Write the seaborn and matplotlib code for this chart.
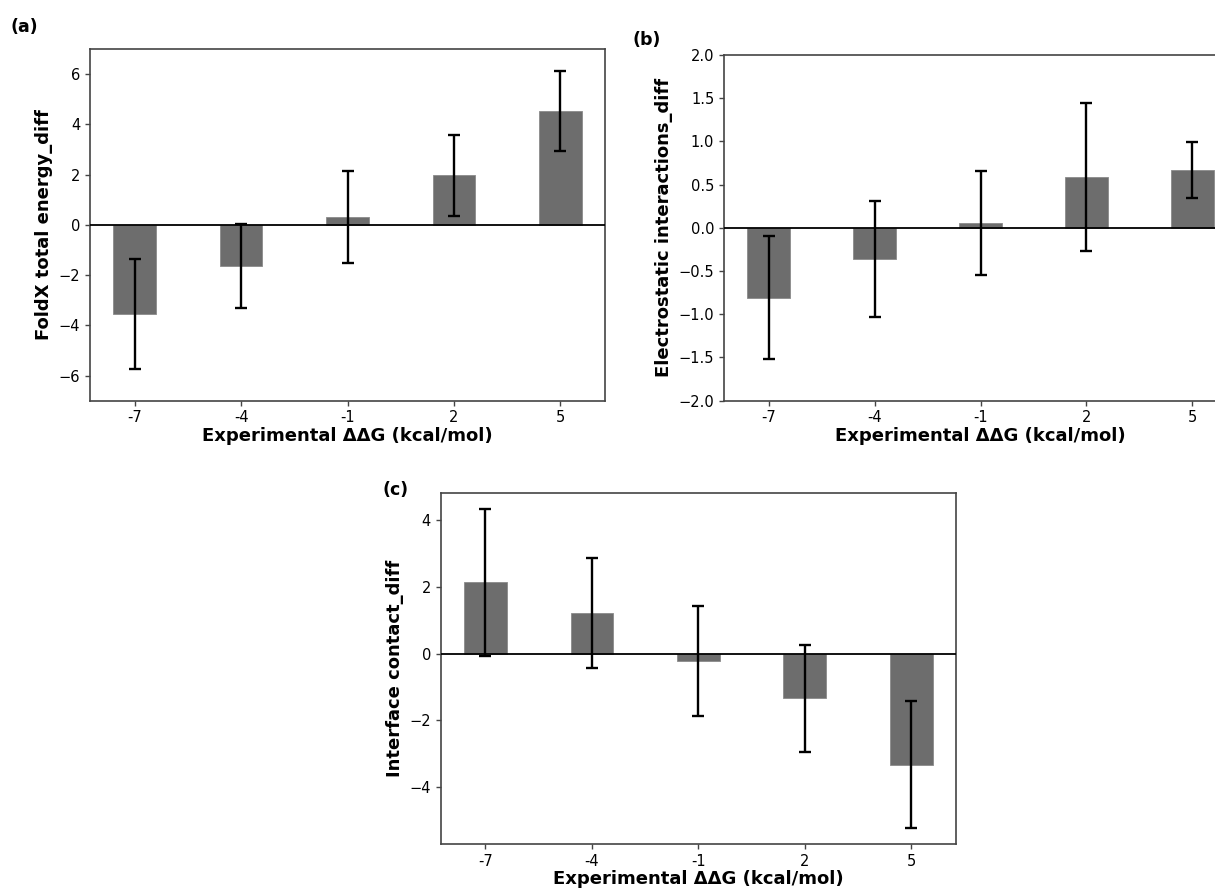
import numpy as np
import pandas as pd
import matplotlib
matplotlib.use("Agg")
import matplotlib.pyplot as plt
import seaborn as sns

# ---- data ----
categories = ["-7", "-4", "-1", "2", "5"]

foldx_mean = [-3.55, -1.65, 0.32, 1.98, 4.54]
foldx_err = [2.17, 1.68, 1.84, 1.61, 1.59]

elec_mean = [-0.81, -0.36, 0.055, 0.59, 0.67]
elec_err = [0.71, 0.67, 0.60, 0.855, 0.32]

contact_mean = [2.14, 1.23, -0.22, -1.35, -3.34]
contact_err = [2.21, 1.65, 1.65, 1.60, 1.90]

xlabel = "Experimental \u0394\u0394G (kcal/mol)"
ylabels = ["FoldX total energy_diff", "Electrostatic interactions_diff", "Interface contact_diff"]
panel_tags = ["(a)", "(b)", "(c)"]

sns.set_style("ticks")
plt.rcParams["font.family"] = ["DejaVu Sans"]
plt.rcParams["text.color"] = "black"
plt.rcParams["axes.labelcolor"] = "black"
plt.rcParams["xtick.labelcolor"] = "black"
plt.rcParams["ytick.labelcolor"] = "black"

fig = plt.figure(figsize=(12.15, 8.89), dpi=100)

positions = [
    [0.0741, 0.5493, 0.4239, 0.3956],
    [0.5959, 0.5493, 0.4222, 0.3889],
    [0.3627, 0.0506, 0.4241, 0.3952],
]
means = [foldx_mean, elec_mean, contact_mean]
errs = [foldx_err, elec_err, contact_err]
ylims = [(-7, 7), (-2, 2), None]
yticks = [[-6, -4, -2, 0, 2, 4, 6],
          [-2.0, -1.5, -1.0, -0.5, 0.0, 0.5, 1.0, 1.5, 2.0],
          [-4, -2, 0, 2, 4]]
tag_pos = [(10 / 1215, 1 - 27 / 889), (632 / 1215, 1 - 40 / 889), (383 / 1215, 1 - 490 / 889)]

bar_color = "#6d6d6d"
spine_color = "#444444"

for i in range(3):
    ax = fig.add_axes(positions[i])
    df = pd.DataFrame({"x": categories, "y": means[i]})
    sns.barplot(data=df, x="x", y="y", order=categories, color=bar_color,
                saturation=1, width=0.4, errorbar=None, ax=ax,
                edgecolor="#8a8a8a", linewidth=0.6)
    xs = np.arange(len(categories))
    ax.errorbar(xs, means[i], yerr=errs[i], fmt="none", ecolor="black",
                elinewidth=1.7, capsize=4.5, capthick=1.7, zorder=5)
    ax.axhline(0, color="black", lw=1.3, zorder=4)
    ax.set_xlim(-0.42, len(categories) - 1 + 0.42)
    if ylims[i] is not None:
        ax.set_ylim(*ylims[i])
    else:
        lo = min(m - e for m, e in zip(means[i], errs[i]))
        hi = max(m + e for m, e in zip(means[i], errs[i]))
        pad = 0.05 * (hi - lo)
        ax.set_ylim(lo - pad, hi + pad)
    ax.set_yticks(yticks[i])
    if i == 1:
        ax.set_yticklabels([f"{v:.1f}".replace("-", "\u2212") for v in yticks[i]])
    ax.set_xticks(xs)
    ax.set_xticklabels(categories)
    ax.tick_params(axis="both", labelsize=10.5, length=3.5, width=1, color=spine_color)
    ax.set_xlabel(xlabel, fontsize=13, fontweight="bold", labelpad=1)
    ax.set_ylabel(ylabels[i], fontsize=13, fontweight="bold")
    for sp in ax.spines.values():
        sp.set_visible(True)
        sp.set_color(spine_color)
        sp.set_linewidth(1.2)
    fig.text(tag_pos[i][0], tag_pos[i][1], panel_tags[i], fontsize=12.5,
             fontweight="bold", va="center", ha="left")

fig.savefig("out.png", dpi=100)
